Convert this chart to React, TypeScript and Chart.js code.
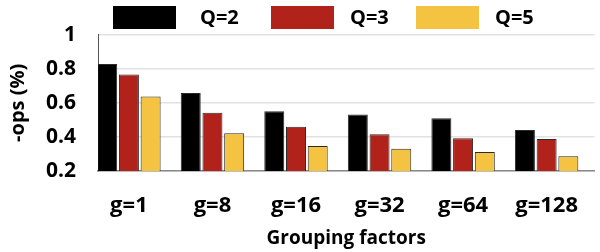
import React, { useEffect, useRef } from "react";
import { Chart, registerables } from "chart.js";

Chart.register(...registerables);

const categories = ["g=1", "g=8", "g=16", "g=32", "g=64", "g=128"];
const seriesLabels = ["Q=2", "Q=3", "Q=5"];
const q2 = [0.828, 0.657, 0.55, 0.531, 0.509, 0.441];
const q3 = [0.766, 0.542, 0.459, 0.416, 0.392, 0.387];
const q5 = [0.637, 0.422, 0.346, 0.331, 0.311, 0.287];
const yTicks = [0.2, 0.4, 0.6, 0.8, 1];
const colors = ["#000000", "#B0221A", "#F5C342"];

const FONT = "'Open Sans', Lato, sans-serif";

// legend layout (box left edges and text left edges, in px)
const legendBoxX = [113, 271, 416];
const legendTextX = [200, 350, 495];

const legendPlugin = {
  id: "customLegend",
  afterDraw(chart: any) {
    const ctx = chart.ctx;
    ctx.save();
    ctx.font = `bold 20px ${FONT}`;
    ctx.textBaseline = "middle";
    const y = 6;
    const h = 23;
    const w = 63;
    chart.data.datasets.forEach((ds: any, i: number) => {
      ctx.fillStyle = ds.backgroundColor;
      ctx.fillRect(legendBoxX[i], y, w, h);
      ctx.fillStyle = "#000";
      ctx.fillText(ds.label, legendTextX[i], y + h / 2 + 1);
    });
    ctx.restore();
  },
};

export default function App() {
  const ref = useRef<HTMLCanvasElement>(null);
  useEffect(() => {
    if (!ref.current) return;
    const mk = (vals: number[]) => vals.map((v, i) => ({ x: i, y: v }));
    const chart = new Chart(ref.current, {
      type: "bar",
      data: {
        datasets: [q2, q3, q5].map((vals, k) => ({
          label: seriesLabels[k],
          data: mk(vals),
          backgroundColor: colors[k],
          borderColor: "#2a2a2a",
          borderWidth: 1,
          categoryPercentage: 0.78,
          barPercentage: 0.92,
        })),
      },
      options: {
        responsive: false,
        animation: false,
        layout: { padding: { top: 34, left: 0, right: 0, bottom: 0 } },
        plugins: { legend: { display: false }, tooltip: { enabled: false } },
        scales: {
          x: {
            type: "linear",
            offset: false,
            min: -0.37,
            max: 5.572,
            afterBuildTicks: (scale: any) => {
              scale.ticks = categories.map((_, i) => ({ value: i }));
            },
            afterFit: (scale: any) => {
              scale.height = 81;
            },
            grid: { display: false, drawTicks: false, offset: false },
            border: { display: true, color: "#8a8a8a", width: 1.5 },
            ticks: {
              autoSkip: false,
              maxRotation: 0,
              padding: 22,
              color: "#000",
              font: { family: FONT, size: 22, weight: "bold" },
              callback: (v: any) => categories[v] ?? "",
            },
            title: {
              display: true,
              text: "Grouping factors",
              color: "#000",
              font: { family: FONT, size: 19, weight: "bold" },
              padding: { top: 0, bottom: 2 },
            },
          },
          y: {
            min: 0.2,
            max: 1,
            afterBuildTicks: (scale: any) => {
              scale.ticks = yTicks.map((v) => ({ value: v }));
            },
            afterFit: (scale: any) => {
              scale.width = 98;
            },
            grid: { color: "#e2e2e2", lineWidth: 1.5, drawTicks: false },
            border: { display: true, color: "#555", width: 1 },
            ticks: {
              padding: 22,
              color: "#000",
              font: { family: FONT, size: 21, weight: "bold" },
              callback: (v: any) => String(Math.round(v * 10) / 10),
            },
            title: {
              display: true,
              text: "-ops (%)",
              color: "#000",
              font: { family: FONT, size: 20, weight: "bold" },
              padding: { top: 6, bottom: 0 },
            },
          },
        },
      },
      plugins: [legendPlugin],
    } as any);
    return () => chart.destroy();
  }, []);
  return (
    <div style={{ position: "absolute", left: 0, top: 0, width: 600, height: 252 }}>
      <canvas ref={ref} width={600} height={252} />
    </div>
  );
}
